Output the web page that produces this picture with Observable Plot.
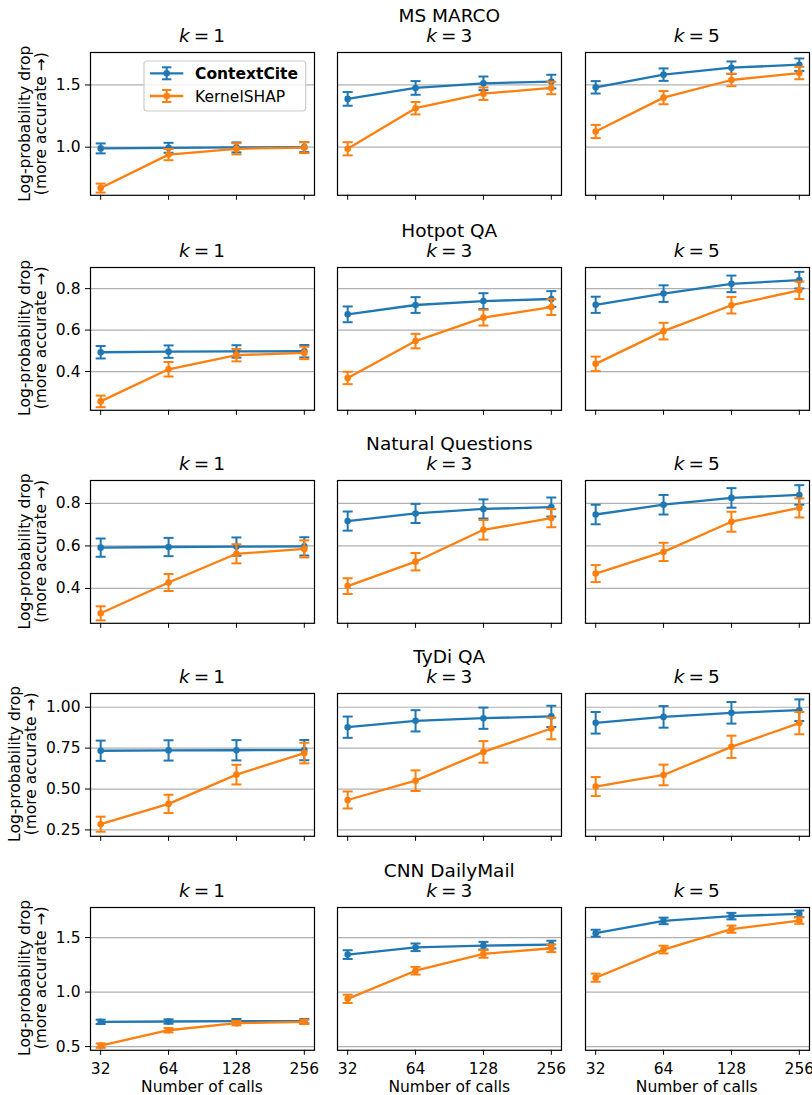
<!DOCTYPE html>
<html><head><meta charset="utf-8">
<script src="https://cdn.jsdelivr.net/npm/d3@7"></script>
<script src="https://cdn.jsdelivr.net/npm/@observablehq/plot@0.6"></script>
<style>
body{margin:0;background:#fff;}
#root{position:relative;width:812px;height:1095px;overflow:hidden;background:#fff;font-family:"DejaVu Sans",sans-serif;}
</style></head><body><div id="root"></div>
<script>
// ---------------- data ----------------
const calls = [32, 64, 128, 256];
const datasets = ["MS MARCO", "Hotpot QA", "Natural Questions", "TyDi QA", "CNN DailyMail"];
const kValues = [1, 3, 5];
const methods = ["ContextCite", "KernelSHAP"];

// mean[dataset][k][calls]
const contextCiteMean = [
  [[0.990, 0.995, 0.998, 1.000], [1.388, 1.476, 1.513, 1.527], [1.481, 1.583, 1.639, 1.663]],
  [[0.493, 0.496, 0.497, 0.498], [0.676, 0.721, 0.740, 0.750], [0.722, 0.776, 0.823, 0.841]],
  [[0.592, 0.595, 0.597, 0.598], [0.717, 0.753, 0.774, 0.783], [0.748, 0.794, 0.826, 0.840]],
  [[0.734, 0.736, 0.737, 0.738], [0.878, 0.917, 0.933, 0.944], [0.905, 0.941, 0.966, 0.982]],
  [[0.727, 0.730, 0.733, 0.733], [1.344, 1.411, 1.426, 1.436], [1.540, 1.653, 1.697, 1.718]]
];
const contextCiteErr = [
  [[0.040, 0.040, 0.040, 0.040], [0.055, 0.055, 0.055, 0.055], [0.050, 0.050, 0.050, 0.050]],
  [[0.030, 0.030, 0.030, 0.030], [0.038, 0.038, 0.038, 0.038], [0.039, 0.040, 0.040, 0.040]],
  [[0.043, 0.043, 0.043, 0.043], [0.045, 0.045, 0.045, 0.045], [0.046, 0.046, 0.046, 0.046]],
  [[0.062, 0.062, 0.062, 0.062], [0.065, 0.065, 0.065, 0.065], [0.066, 0.066, 0.066, 0.066]],
  [[0.020, 0.020, 0.020, 0.020], [0.040, 0.035, 0.035, 0.035], [0.032, 0.030, 0.030, 0.030]]
];
const kernelShapMean = [
  [[0.671, 0.940, 0.987, 0.997], [0.987, 1.313, 1.430, 1.476], [1.126, 1.398, 1.540, 1.596]],
  [[0.256, 0.411, 0.479, 0.490], [0.369, 0.547, 0.660, 0.711], [0.437, 0.595, 0.720, 0.792]],
  [[0.283, 0.428, 0.563, 0.586], [0.411, 0.526, 0.676, 0.731], [0.470, 0.572, 0.714, 0.779]],
  [[0.285, 0.409, 0.588, 0.720], [0.433, 0.551, 0.727, 0.870], [0.515, 0.586, 0.758, 0.903]],
  [[0.509, 0.650, 0.715, 0.727], [0.938, 1.196, 1.350, 1.402], [1.132, 1.390, 1.577, 1.656]]
];
const kernelShapErr = [
  [[0.036, 0.045, 0.045, 0.045], [0.053, 0.050, 0.050, 0.050], [0.053, 0.053, 0.050, 0.050]],
  [[0.028, 0.035, 0.030, 0.030], [0.030, 0.035, 0.038, 0.038], [0.035, 0.040, 0.040, 0.042]],
  [[0.033, 0.040, 0.045, 0.040], [0.037, 0.041, 0.046, 0.043], [0.040, 0.043, 0.047, 0.045]],
  [[0.046, 0.056, 0.060, 0.063], [0.052, 0.063, 0.066, 0.066], [0.058, 0.063, 0.068, 0.068]],
  [[0.020, 0.020, 0.020, 0.020], [0.038, 0.035, 0.035, 0.035], [0.037, 0.035, 0.033, 0.030]]
];

// per-row y ticks and axis limits
const yTicks = [[1.0, 1.5], [0.4, 0.6, 0.8], [0.4, 0.6, 0.8], [0.25, 0.5, 0.75, 1.0], [0.5, 1.0, 1.5]];
const yTickFormats = [".1f", ".1f", ".1f", ".2f", ".1f"];
const yDomains = [[0.613, 1.761], [0.213, 0.902], [0.236, 0.908], [0.211, 1.084], [0.466, 1.776]];

// ---------------- layout ----------------
const colors = ["#1f77b4", "#ff7f0e"];
const colLeft = [90, 337.3, 584.7];
const rowTop = [52.3, 266.5, 480, 692.5, 906.5];
const PW = 224, PH = 142.8;
const FS = 15.5, TFS = 18.5;
const root = document.getElementById("root");

const capSymbol = {draw(ctx, size) { const w = Math.sqrt(size / Math.PI); ctx.moveTo(-w, 0); ctx.lineTo(w, 0); }};
const means = [contextCiteMean, kernelShapMean];
const errs = [contextCiteErr, kernelShapErr];

datasets.forEach((ds, r) => {
  kValues.forEach((k, c) => {
    const mL = c === 0 ? 92 : 4, mR = 4, mT = 4, mB = r === 4 ? 32 : 10;
    const marks = [Plot.ruleY(yTicks[r], {stroke: "#b0b0b0", strokeWidth: 1.2})];
    methods.forEach((m, mi) => {
      const d = calls.map((n, i) => {
        const y = means[mi][r][c][i], e = errs[mi][r][c][i];
        return {method: m, calls: n, y, lo: y - e, hi: y + e};
      });
      marks.push(
        Plot.ruleX(d, {x: "calls", y1: "lo", y2: "hi", stroke: colors[mi], strokeWidth: 2}),
        Plot.dot(d, {x: "calls", y: "lo", symbol: capSymbol, r: 5, stroke: colors[mi], strokeWidth: 2, fill: "none"}),
        Plot.dot(d, {x: "calls", y: "hi", symbol: capSymbol, r: 5, stroke: colors[mi], strokeWidth: 2, fill: "none"}),
        Plot.line(d, {x: "calls", y: "y", stroke: colors[mi], strokeWidth: 2.3}),
        Plot.dot(d, {x: "calls", y: "y", r: 3.3, fill: colors[mi], stroke: "none"})
      );
    });
    marks.push(Plot.frame({stroke: "#000", strokeWidth: 1.2}));
    const svg = Plot.plot({
      width: mL + PW + mR,
      height: mT + PH + mB,
      marginLeft: mL, marginRight: mR, marginTop: mT, marginBottom: mB,
      style: {background: "transparent", color: "#000", fontSize: FS + "px", fontFamily: "DejaVu Sans", overflow: "visible"},
      x: {type: "log", base: 2, domain: [32 * Math.pow(2, -0.15), 256 * Math.pow(2, 0.15)],
          ticks: calls, tickSize: 5, tickPadding: 8, label: null,
          tickFormat: r === 4 ? (d => String(d)) : (() => "")},
      y: c === 0
        ? {domain: yDomains[r], ticks: yTicks[r], tickFormat: d3.format(yTickFormats[r]), tickSize: 5, tickPadding: 5, label: null}
        : {domain: yDomains[r], axis: null},
      marks
    });
    svg.style.position = "absolute";
    svg.style.left = (colLeft[c] - mL) + "px";
    svg.style.top = (rowTop[r] - mT) + "px";
    root.appendChild(svg);
  });
});

// ---------------- overlay text / legend ----------------
const ov = d3.select(root).append("svg")
  .attr("width", 812).attr("height", 1095)
  .style("position", "absolute").style("left", "0px").style("top", "0px")
  .style("pointer-events", "none")
  .attr("font-family", "DejaVu Sans").attr("fill", "#000");

datasets.forEach((ds, r) => {
  const top = rowTop[r];
  ov.append("text").attr("x", colLeft[1] + PW / 2).attr("y", top - 30)
    .attr("text-anchor", "middle").attr("font-size", TFS).text(ds);
  kValues.forEach((k, c) => {
    const t = ov.append("text").attr("x", colLeft[c] + PW / 2).attr("y", top - 10)
      .attr("text-anchor", "middle").attr("font-size", TFS);
    t.append("tspan").attr("font-style", "italic").text("k");
    t.append("tspan").attr("dx", 4).text("=");
    t.append("tspan").attr("dx", 4).text(String(k));
  });
  // y label sits left of the widest tick label of its row
  const shift = yTickFormats[r] === ".2f" ? -9.9 : 0;
  const yc = top + PH / 2;
  const g = ov.append("g").attr("transform", `translate(${shift},${yc}) rotate(-90)`).attr("font-size", FS).attr("text-anchor", "middle");
  g.append("text").attr("x", 0).attr("y", 29.5).text("Log-probability drop");
  g.append("text").attr("x", 0).attr("y", 46.2).text("(more accurate \u2192)");
});

kValues.forEach((k, c) => {
  ov.append("text").attr("x", colLeft[c] + PW / 2).attr("y", 1092)
    .attr("text-anchor", "middle").attr("font-size", FS).text("Number of calls");
});

// legend (row 1, col 1)
const lg = ov.append("g");
lg.append("rect").attr("x", 144).attr("y", 61).attr("width", 161.7).attr("height", 50).attr("rx", 3)
  .attr("fill", "#fff").attr("fill-opacity", 0.8).attr("stroke", "#cccccc").attr("stroke-width", 1.2);
methods.forEach((m, i) => {
  const y = 73.3 + 22.7 * i, cx = 166.7;
  lg.append("line").attr("x1", 150).attr("x2", 183.3).attr("y1", y).attr("y2", y).attr("stroke", colors[i]).attr("stroke-width", 2.3);
  lg.append("line").attr("x1", cx).attr("x2", cx).attr("y1", y - 6).attr("y2", y + 6).attr("stroke", colors[i]).attr("stroke-width", 2);
  [-6, 6].forEach(o => lg.append("line").attr("x1", cx - 4.7).attr("x2", cx + 4.7).attr("y1", y + o).attr("y2", y + o).attr("stroke", colors[i]).attr("stroke-width", 2));
  lg.append("circle").attr("cx", cx).attr("cy", y).attr("r", 3.3).attr("fill", colors[i]);
  lg.append("text").attr("x", 195).attr("y", y + 5.6).attr("font-size", FS)
    .attr("font-weight", i === 0 ? "bold" : "normal").text(m);
});
</script></body></html>
